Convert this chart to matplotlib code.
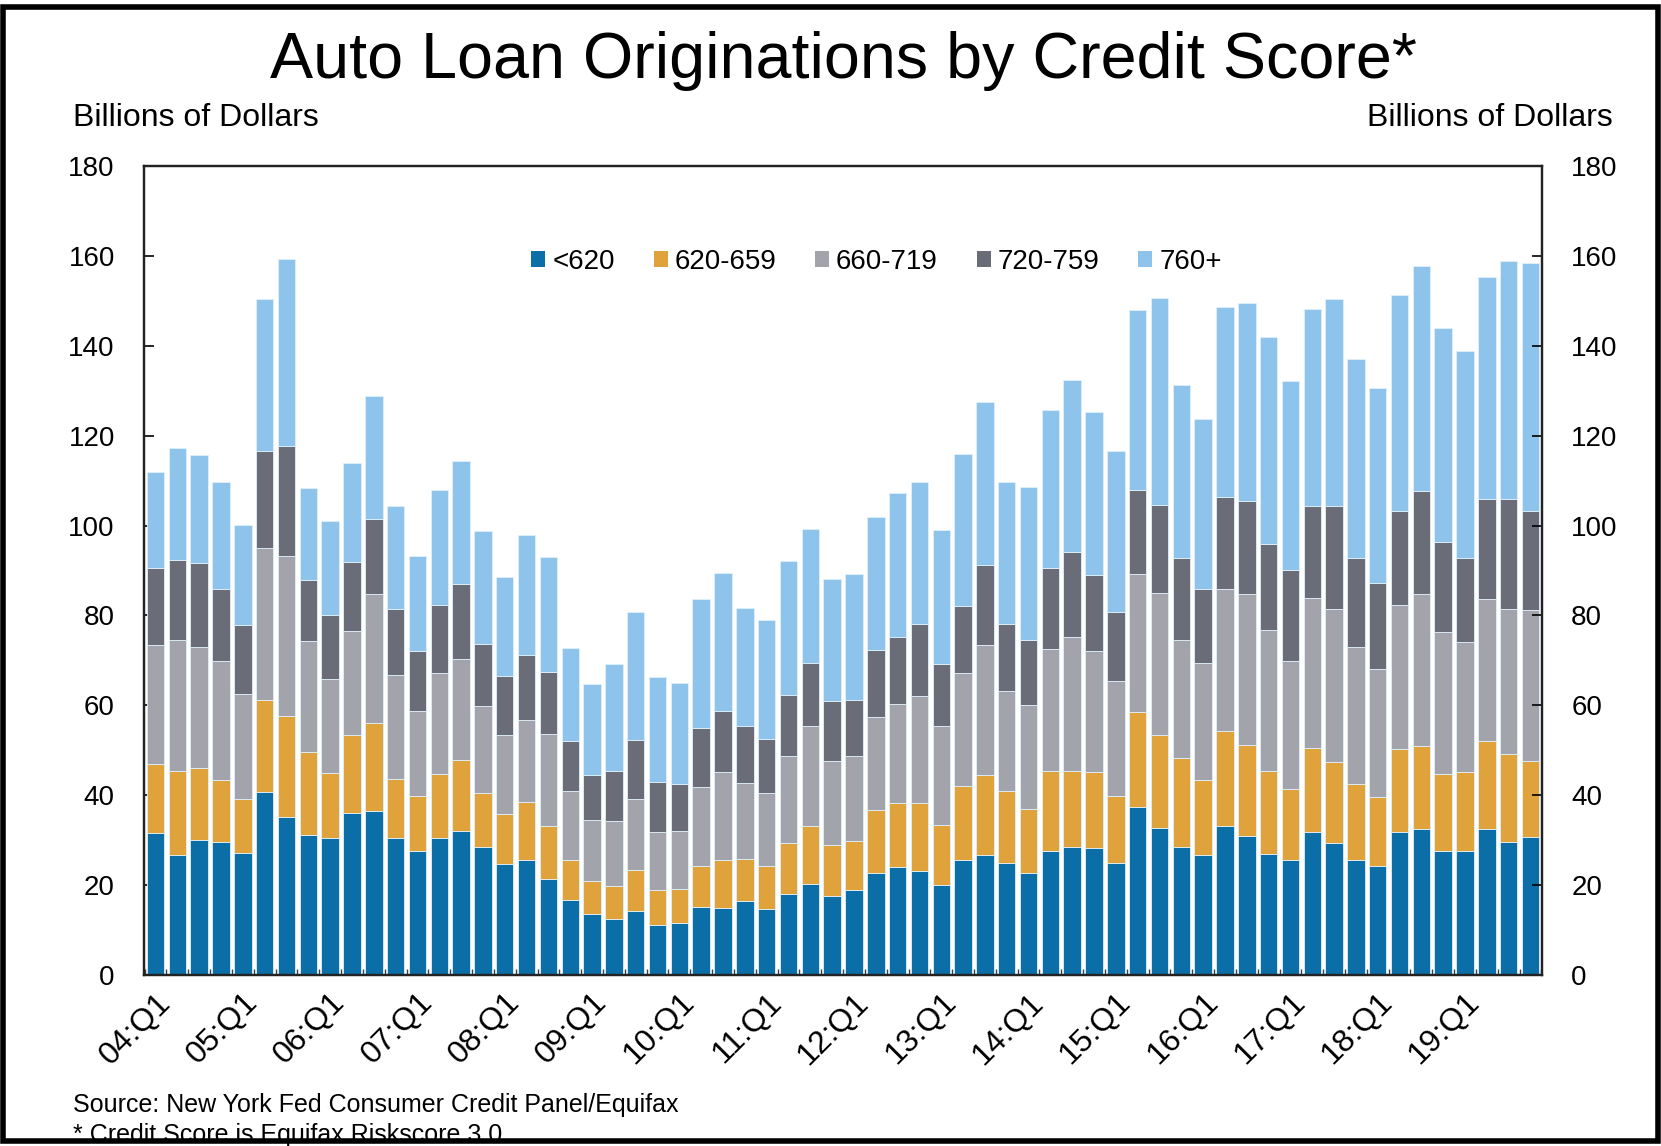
import matplotlib
matplotlib.use("Agg")
import matplotlib.pyplot as plt
from matplotlib.patches import Patch, Rectangle
import numpy as np

plt.rcParams['font.family'] = ['Liberation Sans', 'DejaVu Sans']

quarters = [f"{y:02d}:Q{q}" for y in range(4, 20) for q in range(1, 5)]

# cumulative tops (billions of dollars)
top_620 = [31.5, 26.6, 30.0, 29.7, 27.2, 40.8, 35.1, 31.1, 30.5, 36.1, 36.4, 30.5,
           27.5, 30.5, 32.1, 28.4, 24.8, 25.7, 21.3, 16.7, 13.5, 12.4, 14.2, 11.1,
           11.5, 15.1, 14.9, 16.5, 14.6, 18.0, 20.2, 17.5, 18.9, 22.7, 24.1, 23.2,
           20.0, 25.7, 26.6, 25.0, 22.7, 27.7, 28.4, 28.3, 25.0, 37.4, 32.7, 28.4,
           26.6, 33.1, 31.0, 27.0, 25.6, 31.8, 29.3, 25.6, 24.3, 31.8, 32.4, 27.5,
           27.5, 32.4, 29.7, 30.7]
top_659 = [46.9, 45.3, 46.1, 43.5, 39.2, 61.2, 57.7, 49.6, 45.0, 53.4, 56.1, 43.7,
           39.9, 44.8, 47.8, 40.5, 35.9, 38.5, 33.1, 25.6, 21.0, 19.7, 23.4, 18.9,
           19.2, 24.3, 25.6, 25.9, 24.3, 29.4, 33.1, 28.9, 29.9, 36.7, 38.3, 38.3,
           33.4, 42.1, 44.6, 41.0, 36.9, 45.3, 45.3, 45.1, 39.9, 58.6, 53.4, 48.2,
           43.4, 54.2, 51.2, 45.3, 41.5, 50.5, 47.5, 42.6, 39.6, 50.4, 50.9, 44.8,
           45.1, 52.1, 49.1, 47.7]
top_719 = [73.4, 74.6, 73.0, 69.9, 62.5, 95.1, 93.3, 74.4, 65.8, 76.6, 84.7, 66.7,
           58.8, 67.2, 70.3, 59.9, 53.4, 56.8, 53.7, 41.0, 34.4, 34.3, 39.1, 31.8,
           32.1, 41.9, 45.1, 42.8, 40.5, 48.8, 55.3, 47.7, 48.8, 57.5, 60.2, 62.0,
           55.3, 67.2, 73.4, 63.3, 60.1, 72.6, 75.2, 72.1, 65.5, 89.2, 85.0, 74.6,
           69.4, 85.8, 84.7, 76.8, 69.9, 83.9, 81.4, 73.0, 68.2, 82.3, 84.7, 76.4,
           74.1, 83.6, 81.4, 81.2]
top_759 = [90.6, 92.4, 91.6, 86.0, 77.8, 116.7, 117.7, 87.9, 80.0, 92.0, 101.4, 81.4,
           72.0, 82.3, 87.1, 73.7, 66.6, 71.2, 67.4, 52.1, 44.4, 45.5, 52.3, 42.9,
           42.4, 55.0, 58.8, 55.3, 52.5, 62.2, 69.4, 60.9, 61.3, 72.3, 75.2, 78.2,
           69.3, 82.2, 91.2, 78.2, 74.6, 90.6, 94.1, 88.9, 80.7, 107.9, 104.6, 92.7,
           86.0, 106.3, 105.5, 95.8, 90.1, 104.4, 104.4, 92.8, 87.2, 103.2, 107.6, 96.3,
           92.7, 106.0, 106.0, 103.2]
total = [111.9, 117.3, 115.7, 109.6, 100.1, 150.5, 159.4, 108.3, 101.1, 114.0, 128.9, 104.3,
         93.3, 107.9, 114.3, 98.7, 88.6, 97.8, 93.1, 72.8, 64.7, 69.3, 80.7, 66.3,
         65.0, 83.6, 89.5, 81.7, 79.0, 92.2, 99.2, 88.1, 89.3, 101.9, 107.3, 109.8,
         99.0, 116.0, 127.6, 109.8, 108.6, 125.7, 132.4, 125.3, 116.7, 148.0, 150.7, 131.3,
         123.7, 148.7, 149.6, 141.9, 132.1, 148.1, 150.5, 137.0, 130.7, 151.2, 157.7, 144.0,
         138.8, 155.3, 158.9, 158.4]

series_names = ["<620", "620-659", "660-719", "720-759", "760+"]
colors = ["#0b6ea6", "#e0a23a", "#a3a4ab", "#6a6d77", "#8ec4eb"]

tops = np.array([top_620, top_659, top_719, top_759, total])
bottoms = np.vstack([np.zeros(len(total)), tops[:-1]])
heights = tops - bottoms

fig = plt.figure(figsize=(16.61, 11.46), dpi=100)
ax = fig.add_axes([0.0867, 0.1492, 0.8417, 0.7059])

x = np.arange(len(quarters))
for i in range(5):
    ax.bar(x, heights[i], bottom=bottoms[i], width=0.8, color=colors[i],
           edgecolor='#dff0fb', linewidth=0.6, zorder=2)

ax.set_xlim(-0.53, len(quarters) - 0.47)
ax.set_ylim(0, 180)
ax.set_yticks(range(0, 181, 20))
ax.tick_params(axis='y', direction='in', length=7, width=1.2, labelsize=20,
               left=True, right=False, labelleft=True, labelright=False, pad=21)

axr = ax.twinx()
axr.set_ylim(0, 180)
axr.set_yticks(range(0, 181, 20))
axr.tick_params(axis='y', direction='in', length=7, width=1.2, labelsize=20, pad=21)

major = [i for i, q in enumerate(quarters) if q.endswith("Q1")]
ax.set_xticks(major)
ax.set_xticklabels([quarters[i] for i in major], rotation=45, ha='right',
                   va='top', rotation_mode='anchor', fontsize=23)
ax.set_xticks(np.arange(-0.5, len(quarters), 1), minor=True)
ax.tick_params(axis='x', which='both', direction='in', length=4, width=1,
               color='#404040', pad=9)

for a in (ax, axr):
    for s in a.spines.values():
        s.set_linewidth(1.6)
        s.set_color('#222222')

handles = [Patch(facecolor=c, edgecolor='none', label=n) for n, c in zip(series_names, colors)]
leg = ax.legend(handles=handles, ncol=5, loc='center', bbox_to_anchor=(0.524, 0.882),
                frameon=False, fontsize=20, handlelength=0.5, handleheight=0.5,
                handletextpad=0.25, columnspacing=1.4)

fig.text(0.508, 0.947, "Auto Loan Originations by Credit Score*", ha='center',
         va='center', fontsize=46.5)
fig.text(0.044, 0.897, "Billions of Dollars", ha='left', va='center', fontsize=23)
fig.text(0.971, 0.897, "Billions of Dollars", ha='right', va='center', fontsize=23)
fig.text(0.044, 0.0355, "Source: New York Fed Consumer Credit Panel/Equifax",
         ha='left', va='center', fontsize=18)
fig.text(0.044, 0.0095, "* Credit Score is Equifax Riskscore 3.0",
         ha='left', va='center', fontsize=18)

fig.patches.append(Rectangle((0.002, 0.004), 0.996, 0.99, transform=fig.transFigure,
                             fill=False, edgecolor='black', linewidth=4, zorder=10))

fig.savefig("out.png", dpi=100)
